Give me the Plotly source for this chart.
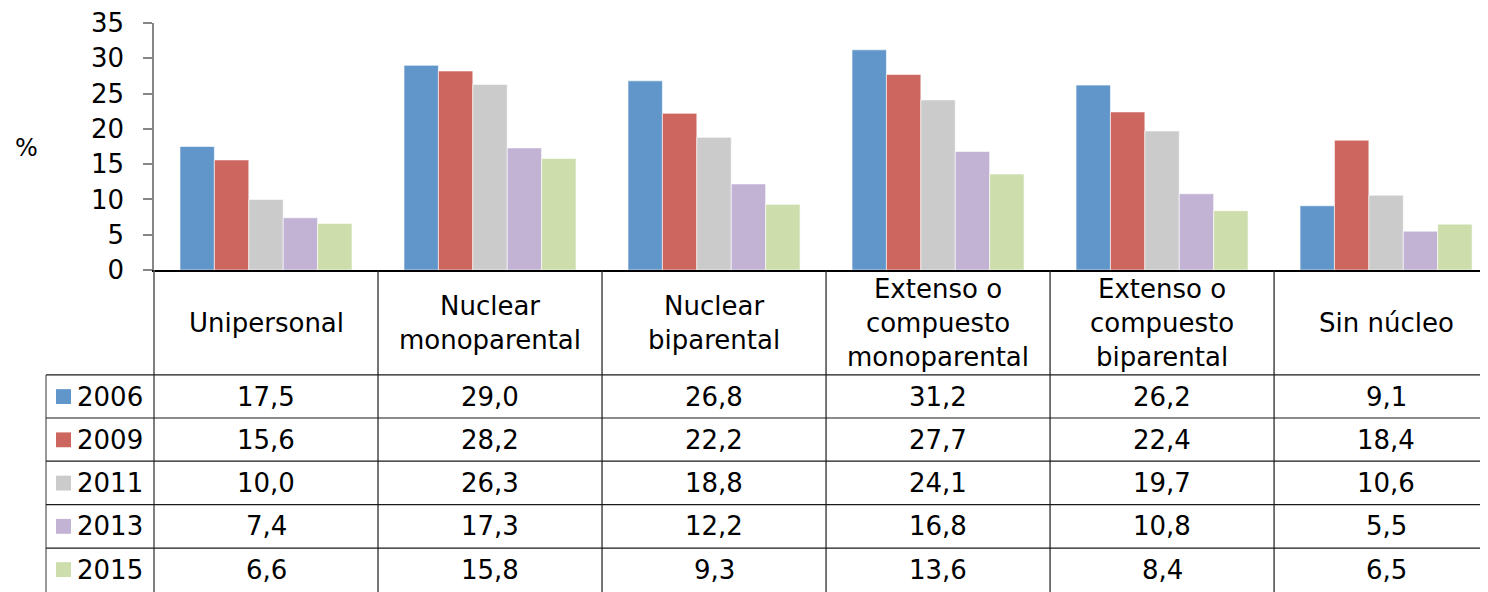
import plotly.graph_objects as go

categories = ["Unipersonal", "Nuclear<br>monoparental", "Nuclear<br>biparental",
              "Extenso o<br>compuesto<br>monoparental", "Extenso o<br>compuesto<br>biparental",
              "Sin núcleo"]
years = ["2006", "2009", "2011", "2013", "2015"]
v2006 = [17.5, 29.0, 26.8, 31.2, 26.2, 9.1]
v2009 = [15.6, 28.2, 22.2, 27.7, 22.4, 18.4]
v2011 = [10.0, 26.3, 18.8, 24.1, 19.7, 10.6]
v2013 = [7.4, 17.3, 12.2, 16.8, 10.8, 5.5]
v2015 = [6.6, 15.8, 9.3, 13.6, 8.4, 6.5]
series = [v2006, v2009, v2011, v2013, v2015]
colors = ["#6196CA", "#CC665E", "#CBCBCB", "#C2B3D4", "#CEDDAC"]

OFF = 8  # page body margin
W, H = 1488 - OFF, 592 - OFF
L, T, B_AX = 154 - OFF, 20.5 - OFF, 270 - OFF  # plot area pixel bounds (figure coords)
XMIN, XMAX = -0.5, 5.455
FONT = "Verdana, DejaVu Sans, sans-serif"
FS = 26

def py(ypx):  # screen y pixel -> paper
    return (B_AX - (ypx - OFF)) / (B_AX - T)

def pxx(xpx):  # screen x pixel -> paper
    return ((xpx - OFF) - L) / (W - L)

def dx2paper(xv):
    return (xv - XMIN) / (XMAX - XMIN)

idx = list(range(len(categories)))
fig = go.Figure()
for yr, vals, c in zip(years, series, colors):
    fig.add_trace(go.Bar(x=idx, y=vals, name=yr,
                         marker=dict(color=c, line=dict(color="rgba(255,255,255,0.6)", width=1)),
                         hoverinfo="skip"))

shapes = []
annotations = []
line_col = "#1a1a1a"
row_lines = [376, 419.5, 463, 507, 551]
bottom = 600
shapes.append(dict(type="line", xref="paper", yref="paper", x0=0, x1=0, y0=0, y1=py(bottom),
                   line=dict(color="#555555", width=1.5)))
for i in range(len(categories) - 1):
    xp = dx2paper(i + 0.5)
    shapes.append(dict(type="line", xref="paper", yref="paper", x0=xp, x1=xp, y0=0, y1=py(bottom),
                       line=dict(color=line_col, width=1.2)))
shapes.append(dict(type="line", xref="paper", yref="paper", x0=pxx(46), x1=pxx(46), y0=py(376), y1=py(bottom),
                   line=dict(color="#555555", width=1.2)))
for yl in row_lines:
    shapes.append(dict(type="line", xref="paper", yref="paper", x0=pxx(46), x1=1, y0=py(yl), y1=py(yl),
                       line=dict(color=line_col, width=1.2)))

for i, cat in enumerate(categories):
    annotations.append(dict(x=i, xref="x", y=py(324), yref="paper", text=cat, showarrow=False,
                            font=dict(family=FONT, size=FS, color="black"), xanchor="center", yanchor="middle"))
row_h = 43.7
for r, (yr, vals, c) in enumerate(zip(years, series, colors)):
    yc = 376 + row_h * (r + 0.5)
    shapes.append(dict(type="rect", xref="paper", yref="paper", x0=pxx(56), x1=pxx(71),
                       y0=py(yc - 7.5), y1=py(yc + 7.5), fillcolor=c, line=dict(width=0)))
    annotations.append(dict(x=pxx(75), xref="paper", y=py(yc), yref="paper", text=yr, showarrow=False,
                            font=dict(family=FONT, size=FS, color="black"), xanchor="left", yanchor="middle"))
    for i, v in enumerate(vals):
        annotations.append(dict(x=i, xref="x", y=py(yc), yref="paper", text=f"{v:.1f}".replace(".", ","),
                                showarrow=False, font=dict(family=FONT, size=FS, color="black"),
                                xanchor="center", yanchor="middle"))

annotations.append(dict(x=pxx(26), xref="paper", y=py(147), yref="paper", text="%", showarrow=False,
                        font=dict(family=FONT, size=24, color="black"), xanchor="center", yanchor="middle"))

fig.update_layout(
    width=W, height=H,
    margin=dict(l=L, r=0, t=T, b=H - B_AX, pad=0),
    paper_bgcolor="white", plot_bgcolor="white",
    barmode="group", bargap=0.232, bargroupgap=0,
    showlegend=False,
    shapes=shapes, annotations=annotations,
    xaxis=dict(range=[XMIN, XMAX], showticklabels=False, showgrid=False, zeroline=False,
               showline=True, linecolor="black", linewidth=1.5, ticks=""),
    yaxis=dict(range=[0, 35], dtick=5, showgrid=False, zeroline=False, showline=True,
               linecolor="#868686", linewidth=1.5, ticks="outside", ticklen=9, tickcolor="#868686",
               tickwidth=1.5, ticklabelstandoff=14, ticklabeloverflow="allow",
               tickfont=dict(family=FONT, size=FS, color="black")),
)
fig.write_html("out.html")
